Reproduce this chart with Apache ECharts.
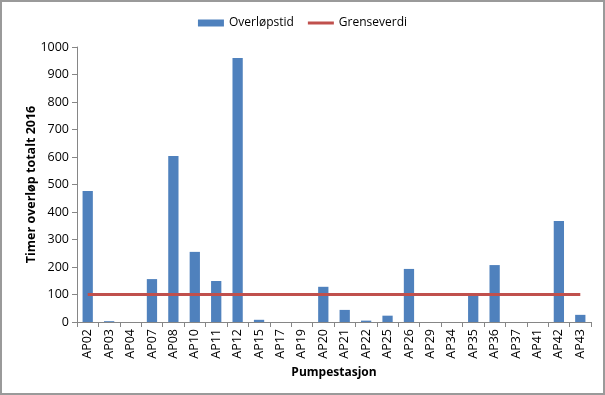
<!DOCTYPE html>
<html><head><meta charset="utf-8">
<script src="https://cdn.jsdelivr.net/npm/echarts@6/dist/echarts.min.js"></script>
<style>
html,body{margin:0;padding:0;background:#fff;}
#c{width:605px;height:395px;box-sizing:border-box;border:2px solid #9a9a9a;}
</style></head>
<body><div id="c"></div>
<script>
const categories = ["AP02","AP03","AP04","AP07","AP08","AP10","AP11","AP12","AP15","AP17","AP19","AP20","AP21","AP22","AP25","AP26","AP29","AP34","AP35","AP36","AP37","AP41","AP42","AP43"];
const overlopstid = [476,3,0,156,604,255,149,960,8,0,0,128,44,5,23,193,0,0,96,207,0,0,367,26];
const grenseverdi = [100,100,100,100,100,100,100,100,100,100,100,100,100,100,100,100,100,100,100,100,100,100,100,100];
const yTicks = [0,100,200,300,400,500,600,700,800,900,1000];

const font = "'Open Sans', 'Liberation Sans', sans-serif";
const chart = echarts.init(document.getElementById('c'), null, {renderer:'canvas'});
chart.setOption({
  animation:false,
  textStyle:{fontFamily:font},
  legend:{
    top:10, left:'center',
    itemWidth:26, itemHeight:7, itemGap:14,
    textStyle:{fontSize:12, color:'#000', fontFamily:font},
    data:[{name:'Overløpstid', icon:'rect'},{name:'Grenseverdi', icon:'path://M0,0 L26,0 L26,3 L0,3 Z'}]
  },
  grid:{left:75, right:12, top:45, bottom:71, containLabel:false},
  xAxis:{
    type:'category', data:categories,
    name:'Pumpestasjon', nameLocation:'middle', nameGap:45,
    nameTextStyle:{fontWeight:'bold', fontSize:12, color:'#000', fontFamily:font},
    axisLine:{lineStyle:{color:'#868686'}},
    axisTick:{show:true, alignWithLabel:false, length:5, lineStyle:{color:'#868686'}},
    axisLabel:{rotate:90, fontSize:12.5, color:'#000', interval:0, margin:7, fontFamily:font},
    splitLine:{show:false}
  },
  yAxis:{
    type:'value', min:yTicks[0], max:yTicks[yTicks.length-1], interval:100,
    name:'Timer overløp totalt 2016', nameLocation:'middle', nameGap:39, nameRotate:90, nameMoveOverlap:false,
    nameTextStyle:{fontWeight:'bold', fontSize:12.5, color:'#000', fontFamily:font},
    axisLine:{show:true, lineStyle:{color:'#868686'}},
    axisTick:{show:true, length:5, lineStyle:{color:'#868686'}},
    axisLabel:{fontSize:12.5, color:'#000', margin:8, fontFamily:font, formatter:function(v){return String(v);}},
    splitLine:{show:false}
  },
  series:[
    {name:'Overløpstid', type:'bar', data:overlopstid, barWidth:'48%', itemStyle:{color:'#4f81bd'}},
    {name:'Grenseverdi', type:'line', data:grenseverdi, symbol:'none', lineStyle:{color:'#c0504d', width:3}, itemStyle:{color:'#c0504d'}}
  ]
});
</script></body></html>
